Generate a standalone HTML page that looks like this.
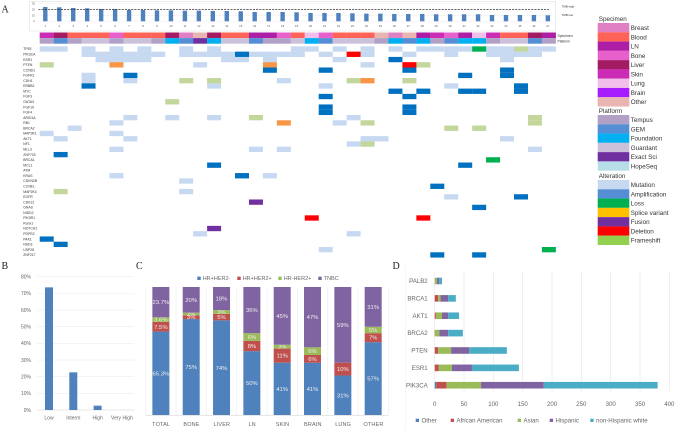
<!DOCTYPE html>
<html lang="en">
<head>
<meta charset="utf-8">
<title>Genomic alteration figure</title>
<style>
html,body{margin:0;padding:0;background:#fff;width:676px;height:430px;overflow:hidden}
svg{display:block}
text{font-family:"Liberation Sans",sans-serif}
.panel{font-family:"Liberation Serif",serif;font-size:10px;fill:#222}
</style>
</head>
<body>
<svg id="figure" xmlns="http://www.w3.org/2000/svg" width="676" height="430" viewBox="0 0 676 430">
  <text class="panel" x="1.5" y="12.5">A</text>
  <text class="panel" x="1.5" y="269">B</text>
  <text class="panel" x="136" y="269">C</text>
  <text class="panel" x="392.5" y="269">D</text>
</svg>
<script>
// ---------- Panel A data ----------
const tmbTicks = [0, 10, 20, 30];
const tmbValues = [24.3,23.7,22.6,22,20.9,20.9,19.2,19.2,18.6,18.6,18,18,17.5,17.5,17,15.8,15.8,15.8,15.3,14.1,14.1,14.1,13.6,13,13,12.4,12.4,12.4,11.9,11.9,11.9,11.9,10.7,10.7,10.7,10.7,10.2];
const tmbThreshold = 20;
const specimenNames = ['Breast','Blood','LN','Bone','Liver','Skin','Lung','Brain','Other'];
const specimenColors = ['#df7fc4','#ff6358','#ad1ea6','#e760cc','#a31c63','#cc2bb5','#f2bfea','#a61cff','#e8b5b0'];
const platformNames = ['Tempus','GEM','Foundation','Guardant','Exact Sci','HopeSeq'];
const platformColors = ['#b2a1c7','#558ed5','#00b0f0','#ccc1da','#7030a0','#b7dee8'];
const alterationNames = ['Mutation','Amplification','Loss','Splice variant','Fusion','Deletion','Frameshift'];
const alterationColors = ['#c6d9f1','#558ed5','#00b050','#ffc000','#7030a0','#ff0000','#92d050'];
const specimenByPatient = ['Skin','Liver','Blood','Blood','Blood','Bone','Blood','Blood','Blood','Liver','Breast','Other','Liver','Blood','Blood','LN','LN','Bone','Blood','Lung','Bone','Blood','Blood','Blood','Other','Breast','Other','LN','Skin','Bone','LN','Lung','Skin','Blood','Blood','Liver','LN'];
const platformByPatient = ['Tempus','GEM','Tempus','Guardant','Guardant','Tempus','Guardant','Guardant','Tempus','Foundation','GEM','Exact Sci','Foundation','Guardant','Guardant','GEM','Tempus','Tempus','Guardant','Foundation','GEM','Guardant','Guardant','Guardant','Tempus','Foundation','GEM','Foundation','Tempus','GEM','Foundation','Foundation','Tempus','Guardant','Guardant','GEM','Tempus'];
const geneNames = ['TP53','PIK3CA','ESR1','PTEN','CCND1','FGFR1','CDH1','ERBB2','MYC','FGF3','GATA3','FGF19','FGF4','ARID1A','RB1','BRCA2','MAP3K1','AKT1','NF1','MLL3','ZNF703','BRCA1','MCL1','ATM','KRAS','CDKN2B','CCNE1','MAP2K4','EGFR','CDK12','GNAS','NIDD2','PIK3R1','Runx1','NOTCH1','PDPR2','PAK1','NSD3','USP28','ZNF217'];
const mutationCells = [['TP53',[1,2,4,6,8,11,13,19,20,22,24,26,28,29,30,31,33,34,36,37]],['PIK3CA',[4,5,6,7,8,9,11,12,13,14,16,17,18,19,21,24,27,30,33,34,35,36]],['ESR1',[5,6,7,8,14,15,17,22,34]],['PTEN',[12,24]],['FGFR1',[4]],['CDH1',[4,7,18]],['ERBB2',[13,21,30]],['ARID1A',[7,10,13,23]],['RB1',[6,22]],['BRCA2',[3]],['MAP3K1',[1,6]],['AKT1',[2,7,24,25,34]],['NF1',[23]],['MLL3',[6,16,18,36]],['KRAS',[6,17]],['CDKN2B',[11]],['MAP2K4',[11]],['EGFR',[30]],['PDPR2',[12,23]],['USP28',[21]]];
const amplificationCells = [['PIK3CA',[15]],['ESR1',[26]],['CCND1',[17,21,27,34]],['FGFR1',[7,31,34]],['ERBB2',[4,35]],['MYC',[26,28,31,32,35]],['FGF3',[21,27]],['FGF19',[21,27]],['FGF4',[21,27]],['ZNF703',[2]],['MCL1',[13,31]],['KRAS',[15]],['CCNE1',[29]],['EGFR',[35]],['GNAS',[32]],['PAK1',[1]],['NSD3',[2]],['ZNF217',[29,32]]];
const frameshiftCells = [['TP53',[35]],['PTEN',[1,28]],['CDH1',[11,13,23,27]],['GATA3',[10]],['ARID1A',[16,36]],['RB1',[24,36]],['BRCA2',[30,32]],['NF1',[24]],['MAP2K4',[2]]];
const spliceCells = [['PTEN',[6,17]],['CDH1',[24]],['RB1',[18]]];
const deletionCells = [['PIK3CA',[23]],['PTEN',[27]],['PIK3R1',[20,28]]];
const fusionCells = [['CDK12',[16]],['NOTCH1',[13]]];
const lossCells = [['TP53',[32]],['BRCA1',[33]],['USP28',[37]]];

// ---------- Panel B data ----------
const riskCategories = ['Low','Interm','High','Very High'];
const riskValues = [73.6,22.6,2.6,0];
const riskTicks = [0,10,20,30,40,50,60,70,80];

// ---------- Panel C data ----------
const siteCategories = ['TOTAL','BONE','LIVER','LN','SKIN','BRAIN','LUNG','OTHER'];
const subtypeNames = ['HR+HER2-','HR+HER2+','HR-HER2+','TNBC'];
const subtypeColors = ['#4f81bd','#c0504d','#9bbb59','#8064a2'];
const hrPosHer2Neg = [65.3,75,74,50,41,41,31,57];
const hrPosHer2Pos = [7.5,3,5,8,11,6,10,7];
const hrNegHer2Pos = [3.6,2,3,6,3,6,0,5];
const tnbc = [23.7,20,18,36,45,47,59,31];

// ---------- Panel D data ----------
const raceGenes = ['PALB2','BRCA1','AKT1','BRCA2','PTEN','ESR1','PIK3CA'];
const raceNames = ['Other','African American','Asian','Hispanic','non-Hispanic white'];
const raceColors = ['#4f81bd','#c0504d','#9bbb59','#8064a2','#4bacc6'];
const raceOther = [0,0,0,0,0,0,2.5];
const raceAfricanAmerican = [0,6,2,0.5,6,7,17.5];
const raceAsian = [4,4,10.5,7.5,22,22.5,59];
const raceHispanic = [3.5,13,10.5,15,31,34,107];
const raceWhite = [5,13,18.5,25,64,80,194];
const raceTicks = [0,50,100,150,200,250,300,350,400];

// ---------- helpers ----------
const svg = document.getElementById('figure');
const NS = 'http://www.w3.org/2000/svg';
function mk(tag, attrs, txt) {
  const el = document.createElementNS(NS, tag);
  for (const k in attrs) el.setAttribute(k, attrs[k]);
  if (txt !== undefined) el.textContent = txt;
  svg.appendChild(el);
  return el;
}
let el;

// ---------- Panel A scales ----------
const colStep = 13.95;
const colX = c => 39.7 + colStep * (c - 1);
const barCx = c => 45.3 + 13.96 * (c - 1);
const rowY = i => 46.35 + 5.28 * i;
const rowH = 5.3;
const tmbY = v => 21.3 - v * 0.59;

// TMB frame
el = mk('rect', {x:29.5, y:1.5, width:526, height:29.5, fill:'none', stroke:'#e6e6e6', 'stroke-width':0.7});


tmbTicks.forEach(t => {
  el = mk('line', {x1:38, x2:552, y1:tmbY(t), y2:tmbY(t), stroke:'#ececec', 'stroke-width':0.5});
  
  
  el = mk('text', {x:35, y:tmbY(t)+0.9, 'font-size':2.8, fill:'#666', 'text-anchor':'end'}, t);
  
  
});
tmbValues.forEach((v, i) => {
  const c = i + 1;
  el = mk('rect', {x:barCx(c)-2.2, y:tmbY(v), width:4.4, height:tmbY(0)-tmbY(v), fill:'#4f81bd'});
  
  
  el = mk('text', {x:barCx(c), y:27, 'font-size':2.8, fill:'#555', 'text-anchor':'middle'}, c);
  
  
});
el = mk('line', {x1:38.5, x2:549, y1:tmbY(tmbThreshold), y2:tmbY(tmbThreshold), stroke:'#333', 'stroke-width':0.8, 'stroke-dasharray':'2 1.2'});


el = mk('text', {x:561.5, y:7.6, 'font-size':3, fill:'#333'}, 'TMB high');


el = mk('text', {x:561.5, y:16, 'font-size':3, fill:'#333'}, 'TMB low');


el = mk('text', {x:557.5, y:37, 'font-size':3.4, fill:'#333'}, 'Specimen');


el = mk('text', {x:557.5, y:42.6, 'font-size':3.4, fill:'#333'}, 'Platform');



// Annotation tracks
specimenByPatient.forEach((s, i) => {
  el = mk('rect', {x:colX(i+1), y:32.5, width:colStep+0.1, height:5.6, fill:specimenColors[specimenNames.indexOf(s)]});
  
  
});
platformByPatient.forEach((p, i) => {
  el = mk('rect', {x:colX(i+1), y:38.1, width:colStep+0.1, height:5.6, fill:platformColors[platformNames.indexOf(p)]});
  
  
});

// Gene labels
geneNames.forEach((g, i) => {
  el = mk('text', {x:23.3, y:rowY(i)+rowH/2+1.2, 'font-size':3.4, fill:'#333'}, g);
  
  
});

// Heatmap cells
function drawCells(list, color, kind) {
  list.forEach(rec => {
    const row = geneNames.indexOf(rec[0]);
    rec[1].forEach(c => {
      el = mk('rect', {x:colX(c), y:rowY(row), width:colStep+0.05, height:rowH+0.02, fill:color});
      
      
    });
  });
}
drawCells(mutationCells, '#c6d9f1', 'mutation');
drawCells(amplificationCells, '#0070c0', 'amplification');
drawCells(frameshiftCells, '#c3d69b', 'frameshift');
drawCells(spliceCells, '#f79646', 'splice');
drawCells(deletionCells, '#ff0000', 'deletion');
drawCells(fusionCells, '#7030a0', 'fusion');
drawCells(lossCells, '#00b050', 'loss');

// Side legend
function drawLegend(title, names, colors, titleY, startY) {
  el = mk('text', {x:598.8, y:titleY+2.2, 'font-size':6.3, fill:'#333'}, title);
  
  
  names.forEach((n, i) => {
    el = mk('rect', {x:597.7, y:startY+9.28*i, width:31.6, height:9.3, fill:colors[i]});
    
    
    el = mk('text', {x:630.7, y:startY+9.28*i+7, 'font-size':6.3, fill:'#333'}, n);
    
    
  });
}
drawLegend('Specimen', specimenNames, specimenColors, 18.7, 23);
drawLegend('Platform', platformNames, platformColors, 111, 115);
drawLegend('Alteration', alterationNames, alterationColors, 175.7, 180);

// ---------- Panel B ----------
const riskX = i => 49 + 24.3 * i;
const riskY = v => 410 - v * (133.3 / 80);
riskTicks.forEach(t => {
  el = mk('line', {x1:37, x2:134, y1:riskY(t), y2:riskY(t), stroke: t === 0 ? '#d0d0d0' : '#ececec', 'stroke-width':0.6});
  
  
  el = mk('text', {x:31, y:riskY(t)+1.8, 'font-size':5, fill:'#666', 'text-anchor':'end'}, t + '%');
  
  
});
riskCategories.forEach((cat, i) => {
  el = mk('rect', {x:riskX(i)-4, y:riskY(riskValues[i]), width:8, height:riskY(0)-riskY(riskValues[i]), fill:'#4f81bd'});
  
  
  el = mk('text', {x:riskX(i), y:419.5, 'font-size':5, fill:'#666', 'text-anchor':'middle'}, cat);
  
  
});

// ---------- Panel C ----------
const siteCell = 30.33;
const siteLeft = 145.7;
const siteCx = i => siteLeft + siteCell * (i + 0.5);
const stackTop = 287;
const stackBottom = 415.3;
const stackY = f => stackBottom - f * (stackBottom - stackTop);
for (let k = 0; k <= siteCategories.length; k++) {
  el = mk('line', {x1:siteLeft+siteCell*k, x2:siteLeft+siteCell*k, y1:stackTop, y2:stackBottom, stroke:'#ececec', 'stroke-width':0.6});
  
  
}
const subtypeSeries = [hrPosHer2Neg, hrPosHer2Pos, hrNegHer2Pos, tnbc];
siteCategories.forEach((cat, i) => {
  const total = subtypeSeries.reduce((a, s) => a + s[i], 0);
  let cum = 0;
  subtypeSeries.forEach((s, j) => {
    const v = s[i];
    if (v <= 0) return;
    const y0 = stackY(cum / total), y1 = stackY((cum + v) / total);
    el = mk('rect', {x:siteCx(i)-8.5, y:y1, width:17, height:y0-y1, fill:subtypeColors[j]});
    
    
    el = mk('text', {x:siteCx(i), y:(y0+y1)/2+2, 'font-size':5.9, fill:'#eeeeee', 'text-anchor':'middle'}, v + '%');
    
    
    cum += v;
  });
  el = mk('text', {x:siteCx(i)+0.3, y:425.8, 'font-size':5.5, fill:'#666', 'text-anchor':'middle', 'letter-spacing':0.15}, cat);
  
  
});
el = mk('line', {x1:siteLeft, x2:siteLeft+siteCell*8, y1:stackBottom, y2:stackBottom, stroke:'#d8d8d8', 'stroke-width':0.6});


[197.3, 237.3, 278.3, 318.3].forEach((x0, j) => {
  el = mk('rect', {x:x0, y:276.6, width:3.4, height:3.4, fill:subtypeColors[j]});
  
  
  el = mk('text', {x:x0+5.4, y:280.2, 'font-size':5.5, fill:'#666'}, subtypeNames[j]);
  
  
});

// ---------- Panel D ----------
const raceX = v => 434.7 + v * 0.5867;
const raceYc = i => 281 + 17.37 * i;
el = mk('line', {x1:405.7, x2:405.7, y1:266, y2:430, stroke:'#efefef', 'stroke-width':0.6});


raceTicks.forEach(t => {
  el = mk('line', {x1:raceX(t), x2:raceX(t), y1:271.7, y2:391.7, stroke:'#e6e6e6', 'stroke-width':0.6});
  
  
  el = mk('text', {x:raceX(t), y:405.8, 'font-size':6.1, fill:'#666', 'text-anchor':'middle'}, t);
  
  
});
const raceSeries = [raceOther, raceAfricanAmerican, raceAsian, raceHispanic, raceWhite];
raceGenes.forEach((g, i) => {
  let cum = 0;
  raceSeries.forEach((s, j) => {
    const v = s[i];
    if (v <= 0) return;
    el = mk('rect', {x:raceX(cum), y:raceYc(i)-3.3, width:raceX(cum+v)-raceX(cum), height:6.6, fill:raceColors[j]});
    
    
    cum += v;
  });
  el = mk('text', {x:427.7, y:raceYc(i)+2.1, 'font-size':6.1, fill:'#666', 'text-anchor':'end'}, g);
  
  
});
[415.7, 450.7, 517.7, 549.7, 590.3].forEach((x0, j) => {
  el = mk('rect', {x:x0, y:418.7, width:3.3, height:3.3, fill:raceColors[j]});
  
  
  el = mk('text', {x:x0+3.2+2.6, y:422.5, 'font-size':6.1, fill:'#666'}, raceNames[j]);
  
  
});
</script>
</body>
</html>
